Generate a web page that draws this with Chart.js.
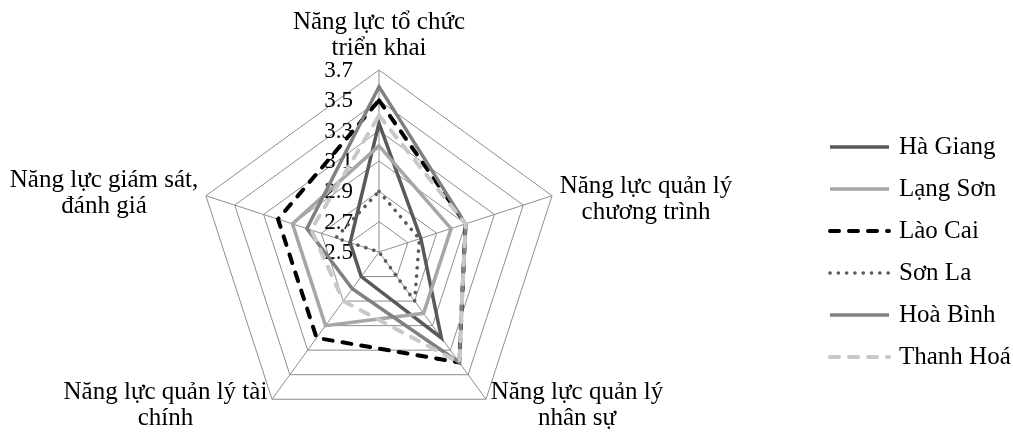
<!DOCTYPE html>
<html>
<head>
<meta charset="utf-8">
<script src="https://cdn.jsdelivr.net/npm/chart.js@4/dist/chart.umd.min.js"></script>
<style>
  html, body { margin: 0; padding: 0; background: #fff; }
  canvas { display: block; }
</style>
</head>
<body>
<canvas id="c" width="1013" height="435"></canvas>
<script>
// Axis categories (each entry split into the lines it is printed on)
const categories = [
  ["Năng lực tổ chức", "triển khai"],
  ["Năng lực quản lý", "chương trình"],
  ["Năng lực quản lý", "nhân sự"],
  ["Năng lực quản lý tài", "chính"],
  ["Năng lực giám sát,", "đánh giá"]
];

// Radial scale tick values
const tickValues = [2.5, 2.7, 2.9, 3.1, 3.3, 3.5, 3.7];

// Province scores, one per category
const haGiang  = [3.35, 2.79, 3.20, 2.70, 2.70];
const langSon  = [3.20, 3.00, 3.00, 3.10, 3.10];
const laoCai   = [3.50, 3.10, 3.40, 3.20, 3.20];
const sonLa    = [2.90, 2.78, 2.90, 2.50, 2.80];
const hoaBinh  = [3.59, 3.10, 3.40, 2.80, 3.00];
const thanhHoa = [3.40, 3.10, 3.40, 2.90, 2.97];

const FONT = '"Liberation Serif", "Times New Roman", serif';

function series(label, data, color, width, dash, cap, order) {
  return {
    label, data,
    borderColor: color,
    backgroundColor: color,
    borderWidth: width,
    borderDash: dash,
    borderCapStyle: cap,
    borderJoinStyle: 'miter',
    pointRadius: 0,
    pointHoverRadius: 0,
    fill: false,
    tension: 0,
    order
  };
}

const datasets = [
  series('Hà Giang',  haGiang,  '#595959', 3.5, [],         'butt',  5),
  series('Lạng Sơn',  langSon,  '#a6a6a6', 3.5, [],         'butt',  4),
  series('Lào Cai',   laoCai,   '#000000', 4,   [9, 10],    'round', 3),
  series('Sơn La',    sonLa,    '#595959', 3.6, [0.1, 8.2], 'round', 2),
  series('Hoà Bình',  hoaBinh,  '#808080', 3.5, [],         'butt',  1),
  series('Thanh Hoá', thanhHoa, '#c8c8c8', 4,   [9, 10],    'round', 0)
];

// Tick labels, axis titles and the legend are drawn here
const overlay = {
  id: 'overlay',
  beforeDatasetsDraw(chart) {
    const s = chart.scales.r;
    const ctx = chart.ctx;
    ctx.save();
    ctx.font = '23px ' + FONT;
    ctx.fillStyle = '#000';
    ctx.textAlign = 'right';
    ctx.textBaseline = 'middle';
    tickValues.forEach(v => {
      const d = s.getDistanceFromCenterForValue(v);
      ctx.fillText(v.toFixed(1), s.xCenter - 26, s.yCenter - d + 1);
    });
    ctx.restore();
  },
  afterDraw(chart) {
    const s = chart.scales.r;
    const ctx = chart.ctx;
    ctx.save();
    ctx.font = '25px ' + FONT;
    ctx.fillStyle = '#000';
    ctx.textAlign = 'center';
    ctx.textBaseline = 'middle';
    const lh = 26;
    categories.forEach((lines, i) => {
      const p = s.getPointPosition(i, s.drawingArea + 8);
      const w = Math.max(...lines.map(l => ctx.measureText(l).width));
      let cx = p.x;
      if (p.x > s.xCenter + 5) cx = p.x + w / 2;
      else if (p.x < s.xCenter - 5) cx = p.x - w / 2;
      let top;
      if (Math.abs(p.x - s.xCenter) <= 5) {
        top = p.y - 1 - lines.length * lh;
      } else {
        top = p.y - lines.length * lh / 2;
        // the right-hand upper title sits a little lower than its vertex
        if (p.x > s.xCenter && p.y < s.yCenter) top += 6;
      }
      lines.forEach((l, k) => ctx.fillText(l, cx, top + lh * (k + 0.5)));
    });

    // legend
    ctx.textAlign = 'left';
    chart.data.datasets.forEach((ds, i) => {
      const y = 147 + i * 42;
      ctx.save();
      ctx.strokeStyle = ds.borderColor;
      ctx.lineWidth = ds.borderWidth;
      ctx.lineCap = ds.borderCapStyle;
      ctx.setLineDash(ds.borderDash);
      ctx.beginPath();
      ctx.moveTo(830, y);
      ctx.lineTo(889, y);
      ctx.stroke();
      ctx.restore();
      ctx.fillText(ds.label, 899, y);
    });
    ctx.restore();
  }
};

new Chart(document.getElementById('c'), {
  type: 'radar',
  data: { labels: categories, datasets },
  plugins: [overlay],
  options: {
    responsive: false,
    animation: false,
    events: [],
    layout: { padding: { left: 197, top: 70, right: 452, bottom: 1 } },
    plugins: { legend: { display: false }, tooltip: { enabled: false } },
    elements: { line: { tension: 0 } },
    scales: {
      r: {
        min: tickValues[0],
        max: tickValues[tickValues.length - 1],
        afterBuildTicks(scale) {
          scale.ticks = tickValues.map(v => ({ value: v }));
        },
        ticks: { display: false, stepSize: 0.2 },
        pointLabels: { display: false },
        grid: { color: '#8e8e8e', lineWidth: 1 },
        angleLines: { color: '#8e8e8e', lineWidth: 1 }
      }
    }
  }
});
</script>
</body>
</html>
